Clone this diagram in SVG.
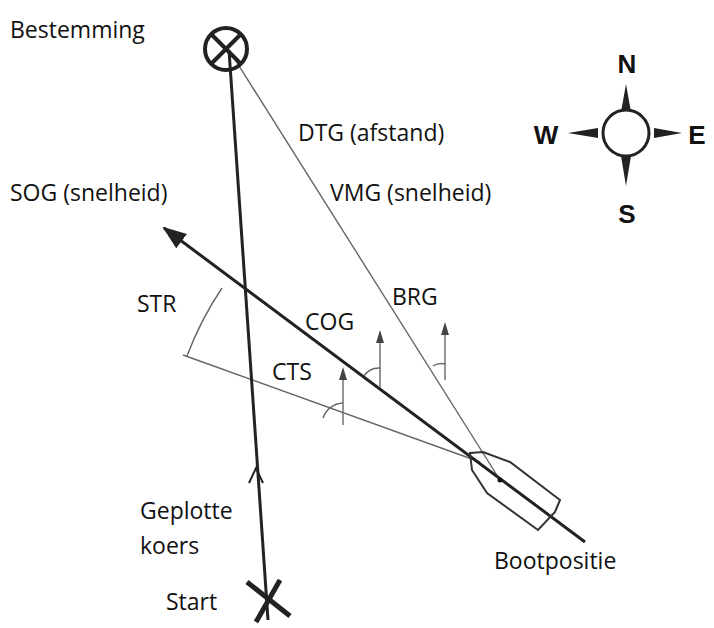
<svg xmlns="http://www.w3.org/2000/svg" width="714" height="628" viewBox="0 0 714 628">
<style>
.t{font-family:"Open Sans","Liberation Sans",sans-serif;font-size:23px;fill:#111}
.c{font-family:"Liberation Sans",sans-serif;font-size:26px;font-weight:bold;fill:#111}
.thin{stroke:#666;stroke-width:1.4;fill:none}
.thick{stroke:#222;stroke-width:3;fill:none}
.na{fill:#444}
</style>
<defs>
<marker id="big" markerWidth="24" markerHeight="18" refX="2" refY="9" orient="auto" markerUnits="userSpaceOnUse"><path d="M24,0 L0,9 L24,18Z" fill="#222"/></marker>
</defs>
<rect width="714" height="628" fill="#fff"/>
<g id="connectors">
<line class="thin" x1="229" y1="50" x2="500" y2="480"/>
<line class="thin" x1="183" y1="355" x2="480" y2="462"/>
<path class="thin" d="M187,356 A330,330 0 0 1 222,288"/>
<line class="thick" x1="229" y1="50" x2="268" y2="620"/>
<path d="M249,483 L256,468 L263,483" stroke="#222" stroke-width="2" fill="none"/>
<line class="thick" x1="164" y1="228" x2="585" y2="542" marker-start="url(#big)"/>
<line class="thin" x1="343" y1="425" x2="343" y2="376"/>
<path class="na" d="M339,380 L343,367 L347,380Z"/>
<path class="thin" d="M323,418 A22,22 0 0 1 343,403"/>
<line class="thin" x1="380" y1="388" x2="380" y2="339"/>
<path class="na" d="M376,343 L380,330 L384,343Z"/>
<path class="thin" d="M364,376 A18,18 0 0 1 380,368"/>
<line class="thin" x1="445" y1="380" x2="445" y2="331"/>
<path class="na" d="M441,335 L445,322 L449,335Z"/>
<path class="thin" d="M433,366 A16,16 0 0 1 445,364"/>
</g>
<g id="destination">
<circle cx="226" cy="49" r="21" fill="none" stroke="#222" stroke-width="4"/>
<line x1="211" y1="34" x2="241" y2="64" stroke="#222" stroke-width="4"/>
<line x1="241" y1="34" x2="211" y2="64" stroke="#222" stroke-width="4"/>
<text class="t" x="10" y="38">Bestemming</text>
</g>
<g id="start">
<line x1="247" y1="582" x2="290" y2="616" stroke="#222" stroke-width="5"/>
<line x1="280" y1="580" x2="256" y2="622" stroke="#222" stroke-width="5"/>
<text class="t" x="166" y="610">Start</text>
</g>
<g id="boat">
<path d="M470,453 L483,452 L510,462 L560,500 L555,512 L538,530 L487,493 L472,470Z" fill="none" stroke="#333" stroke-width="2"/>
<circle cx="500" cy="480" r="2.5" fill="#111"/>
<text class="t" x="494" y="569">Bootpositie</text>
</g>
<g id="labels">
<text class="t" x="298" y="141">DTG (afstand)</text>
<text class="t" x="330" y="201">VMG (snelheid)</text>
<text class="t" x="10" y="201">SOG (snelheid)</text>
<text class="t" x="137" y="312">STR</text>
<text class="t" x="305" y="330">COG</text>
<text class="t" x="392" y="305">BRG</text>
<text class="t" x="272" y="380">CTS</text>
<text class="t" x="140" y="519">Geplotte</text>
<text class="t" x="140" y="554">koers</text>
</g>
<g id="compass">
<path d="M626,84 L631,112 L621,112Z M626,186 L631,156 L621,156Z M568,133 L598,128 L598,138Z M682,133 L654,128 L654,138Z" fill="#222"/>
<circle cx="626" cy="133" r="23" fill="#fff" stroke="#222" stroke-width="3"/>
<text class="c" x="627" y="73" text-anchor="middle">N</text>
<text class="c" x="627" y="223" text-anchor="middle">S</text>
<text class="c" x="546" y="144" text-anchor="middle">W</text>
<text class="c" x="697" y="144" text-anchor="middle">E</text>
</g>
</svg>
